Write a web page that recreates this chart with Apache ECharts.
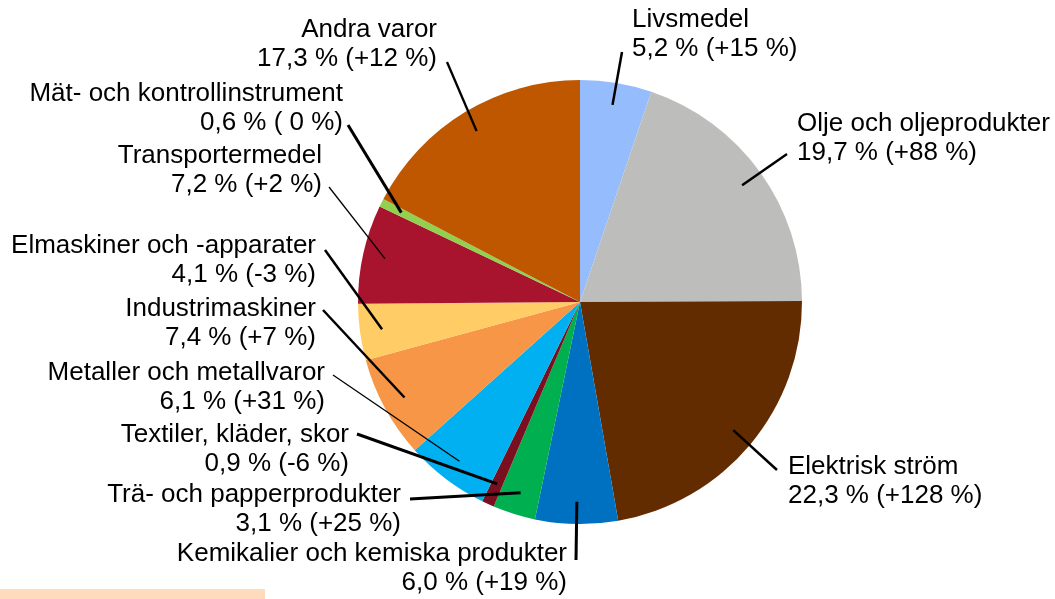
<!DOCTYPE html>
<html>
<head>
<meta charset="utf-8">
<script src="https://cdn.jsdelivr.net/npm/echarts@6/dist/echarts.min.js"></script>
<style>
  html, body { margin: 0; padding: 0; background: #fff; }
  #chart { width: 1055px; height: 599px; }
</style>
</head>
<body>
<div id="chart"></div>
<script>
// Import categories, clockwise from twelve o'clock
const categories = [
  'Livsmedel',
  'Olje och oljeprodukter',
  'Elektrisk ström',
  'Kemikalier och kemiska produkter',
  'Trä- och papperprodukter',
  'Textiler, kläder, skor',
  'Metaller och metallvaror',
  'Industrimaskiner',
  'Elmaskiner och -apparater',
  'Transportermedel',
  'Mät- och kontrollinstrument',
  'Andra varor'
];
// Share of total imports, %
const shares = [5.2, 19.7, 22.3, 6.0, 3.1, 0.9, 6.1, 7.4, 4.1, 7.2, 0.6, 17.3];
// Change from previous year, %
const changes = [15, 88, 128, 19, 25, -6, 31, 7, -3, 2, 0, 12];

const colors = ['#95BCFC', '#BDBEBC', '#632B00', '#0070C0', '#00B050', '#7A0F1F',
                '#00B0F0', '#F79646', '#FFCC66', '#A8132E', '#92D050', '#BF5700'];
const lineWidths = [2.5, 2.5, 2.5, 3, 3, 3, 1.3, 2.5, 2.5, 1.3, 3, 2.3];

// Label anchors and leader-line outer ends
const labelPlaces = [
  { x: 632, y: 34,  align: 'left',  end: [622, 52] },
  { x: 797, y: 138, align: 'left',  end: [787, 154] },
  { x: 788, y: 481, align: 'left',  end: [777, 470] },
  { x: 567, y: 568, align: 'right', end: [576, 560] },
  { x: 401, y: 509, align: 'right', end: [410, 499] },
  { x: 349, y: 449, align: 'right', end: [357, 434] },
  { x: 325, y: 387, align: 'right', end: [333, 375] },
  { x: 316, y: 323, align: 'right', end: [323, 310] },
  { x: 316, y: 260, align: 'right', end: [325, 250] },
  { x: 322, y: 170, align: 'right', end: [329, 187] },
  { x: 343, y: 108, align: 'right', end: [348, 125] },
  { x: 437, y: 44,  align: 'right', end: [447, 62] }
];

const CENTER = [580, 302];
const RADIUS = 222;
const INNER = 0.9;   // leader lines start inside the slice

function fmtShare(v) { return v.toFixed(1).replace('.', ','); }
function fmtChange(c) { return c > 0 ? '+' + c : (c < 0 ? String(c) : ' 0'); }

// Point inside slice i, on its middle angle
function innerPoint(i) {
  let before = 0;
  for (let k = 0; k < i; k++) before += shares[k];
  const total = shares.reduce((a, b) => a + b, 0);
  const ang = (before + shares[i] / 2) / total * Math.PI * 2;
  return [CENTER[0] + RADIUS * INNER * Math.sin(ang),
          CENTER[1] - RADIUS * INNER * Math.cos(ang)];
}

const data = categories.map((name, i) => ({
  name: name,
  value: shares[i],
  change: changes[i],
  itemStyle: { color: colors[i] }
}));

// Leader lines from inside each slice out to its label
const leaderLines = categories.map((name, i) => {
  const p = innerPoint(i);
  const e = labelPlaces[i].end;
  return {
    type: 'line',
    z: 50,
    silent: true,
    shape: { x1: p[0], y1: p[1], x2: e[0], y2: e[1] },
    style: { stroke: '#000', lineWidth: lineWidths[i] }
  };
});

const chart = echarts.init(document.getElementById('chart'), null, { renderer: 'canvas' });

chart.setOption({
  backgroundColor: '#ffffff',
  animation: false,
  graphic: [{
    type: 'rect',
    shape: { x: 0, y: 589, width: 265, height: 10 },
    style: { fill: '#FDDBBC' },
    silent: true
  }].concat(leaderLines),
  series: [{
    type: 'pie',
    center: CENTER,
    radius: RADIUS,
    startAngle: 90,
    clockwise: true,
    avoidLabelOverlap: false,
    silent: true,
    data: data,
    itemStyle: { borderWidth: 0 },
    label: {
      show: true,
      position: 'outside',
      color: '#000',
      fontFamily: '"Liberation Sans", Arial, sans-serif',
      fontSize: 26,
      lineHeight: 29,
      formatter: function (p) {
        return p.name + '\n' + fmtShare(p.value) + ' % (' + fmtChange(p.data.change) + ' %)';
      }
    },
    labelLine: { show: false },
    labelLayout: function (params) {
      const place = labelPlaces[params.dataIndex];
      return {
        x: place.x,
        y: place.y,
        align: place.align,
        verticalAlign: 'middle'
      };
    }
  }]
});
</script>
</body>
</html>
